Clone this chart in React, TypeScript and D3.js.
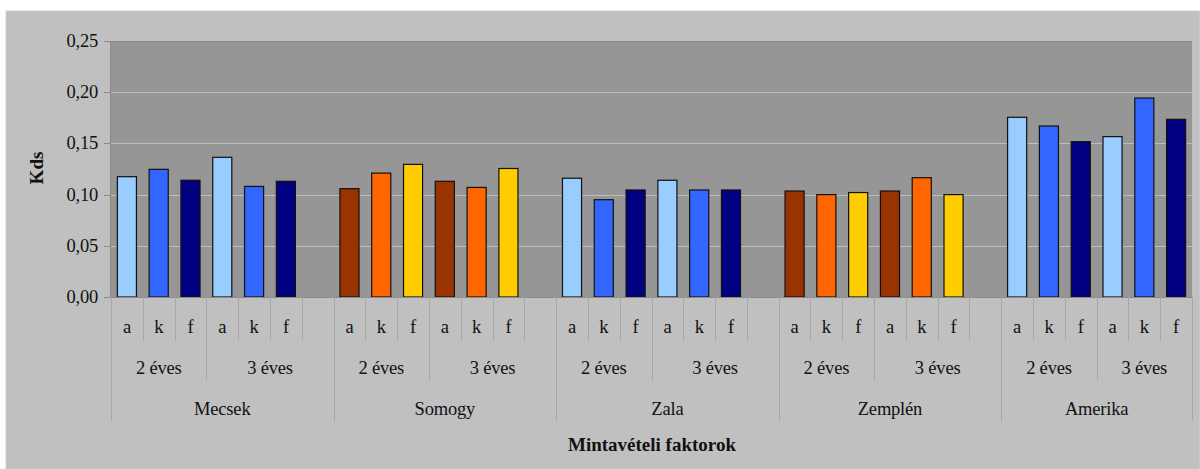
import React from "react";
import * as d3 from "d3";

const regions = ["Mecsek", "Somogy", "Zala", "Zemplén", "Amerika"];
const ages = ["2 éves", "3 éves"];
const factors = ["a", "k", "f"];
// values per region: 2 éves a,k,f then 3 éves a,k,f
const mecsek = [0.1175, 0.1247, 0.114, 0.1364, 0.108, 0.113];
const somogy = [0.1058, 0.121, 0.1295, 0.113, 0.107, 0.1255];
const zala = [0.116, 0.095, 0.1045, 0.114, 0.1045, 0.1045];
const zemplen = [0.1035, 0.1, 0.102, 0.1035, 0.1165, 0.1];
const amerika = [0.1755, 0.167, 0.1517, 0.1566, 0.1943, 0.1735];
const regionValues = [mecsek, somogy, zala, zemplen, amerika];
const blueColors = ["#99ccff", "#3366ff", "#000080"];
const warmColors = ["#993300", "#ff6600", "#ffcc00"];
const regionPalette = [blueColors, warmColors, blueColors, warmColors, blueColors];
const yTicks = [0, 0.05, 0.1, 0.15, 0.2, 0.25];
const yTitle = "Kds";
const xTitle = "Mintavételi faktorok";

type Slot = { id: string; region: number; age: number; factor: number; value: number | null };

const slots: Slot[] = [];
regions.forEach((r, ri) => {
  ages.forEach((a, ai) => {
    factors.forEach((f, fi) => {
      slots.push({ id: `${ri}-${ai}-${fi}`, region: ri, age: ai, factor: fi, value: regionValues[ri][ai * 3 + fi] });
    });
  });
  if (ri < regions.length - 1) slots.push({ id: `${ri}-blank`, region: ri, age: 1, factor: -1, value: null });
});

const W = 1200, H = 469;
const left = 111, right = 1192, top = 41, bottom = 297;
const font = "Liberation Serif, Times New Roman, DejaVu Serif, serif";
const textStyle: React.CSSProperties = { fontFamily: font, fontSize: "18.5px", letterSpacing: "-0.2px" };
const titleStyle: React.CSSProperties = { fontFamily: font, fontSize: "19px", letterSpacing: "0px", fontWeight: "bold" };

export default function App() {
  const x = d3.scaleBand<string>().domain(slots.map(s => s.id)).range([left, right]).padding(0);
  const y = d3.scaleLinear().domain([0, 0.25]).range([bottom, top]);
  const bw = x.bandwidth();
  const barW = bw * 0.6;

  const groupSpan = (pred: (s: Slot) => boolean) => {
    const ss = slots.filter(pred);
    const x0 = x(ss[0].id)!;
    const x1 = x(ss[ss.length - 1].id)! + bw;
    return [x0, x1];
  };

  const lines: React.ReactNode[] = [];
  const labels: React.ReactNode[] = [];
  slots.forEach((s, i) => {
    const sx = Math.round(x(s.id)!);
    let y2 = 340;
    if (i === 0 || s.region !== slots[i - 1].region) y2 = 421;
    else if (s.age !== slots[i - 1].age) y2 = 380;
    lines.push(<line key={"d" + i} x1={sx + 0.5} x2={sx + 0.5} y1={bottom} y2={y2} stroke="#a6a6a6" strokeWidth={1} />);
    if (s.factor >= 0)
      labels.push(<text key={"f" + i} x={x(s.id)! + bw / 2} y={333} textAnchor="middle" style={textStyle} fill="#111">{factors[s.factor]}</text>);
  });
  lines.push(<line key="dend" x1={right + 0.5} x2={right + 0.5} y1={bottom} y2={421} stroke="#a6a6a6" />);
  regions.forEach((r, ri) => {
    ages.forEach((a, ai) => {
      const [a0, a1] = groupSpan(s => s.region === ri && s.age === ai);
      labels.push(<text key={`a${ri}${ai}`} x={(a0 + a1) / 2} y={374} textAnchor="middle" style={textStyle} fill="#111">{a}</text>);
    });
    const [r0, r1] = groupSpan(s => s.region === ri);
    labels.push(<text key={`r${ri}`} x={(r0 + r1) / 2} y={415} textAnchor="middle" style={textStyle} fill="#111">{r}</text>);
  });

  return (
    <svg width={W} height={H} style={{ position: "absolute", left: 0, top: 0 }}>
      <rect x={0} y={0} width={W} height={H} fill="#ffffff" />
      <rect x={6} y={11} width={W - 6} height={H - 11} fill="#c0c0c0" stroke="#d0d0d0" />
      <rect x={left} y={top} width={right - left} height={bottom - top} fill="#969696" />
      {yTicks.filter(t => t > 0).map(t => (
        <line key={"g" + t} x1={left} x2={right} y1={Math.round(y(t)) + 0.5} y2={Math.round(y(t)) + 0.5} stroke="#bdbdbd" strokeWidth={1} />
      ))}
      <line x1={left} x2={right} y1={top + 0.5} y2={top + 0.5} stroke="#8a8a8a" />
      {slots.filter(s => s.value !== null).map(s => (
        <rect key={"b" + s.id}
          x={x(s.id)! + (bw - barW) / 2} y={y(s.value!)}
          width={barW} height={bottom - y(s.value!)}
          fill={regionPalette[s.region][s.factor]} stroke="#111" strokeWidth={1.2} />
      ))}
      <line x1={left - 0.5} x2={left - 0.5} y1={top} y2={bottom} stroke="#8a8a8a" />
      <line x1={left} x2={right} y1={bottom + 0.5} y2={bottom + 0.5} stroke="#8a8a8a" />
      {yTicks.map(t => (
        <g key={"t" + t}>
          <line x1={104} x2={left} y1={Math.round(y(t)) + 0.5} y2={Math.round(y(t)) + 0.5} stroke="#8a8a8a" />
          <text x={98} y={y(t) + 6} textAnchor="end" style={textStyle} fill="#111">
            {d3.format(".2f")(t).replace(".", ",")}
          </text>
        </g>
      ))}
      {lines}
      {labels}
      <text x={652} y={451} textAnchor="middle" style={titleStyle} fill="#111">{xTitle}</text>
      <text transform="translate(43,168) rotate(-90)" textAnchor="middle" style={titleStyle} fill="#111">{yTitle}</text>
    </svg>
  );
}
